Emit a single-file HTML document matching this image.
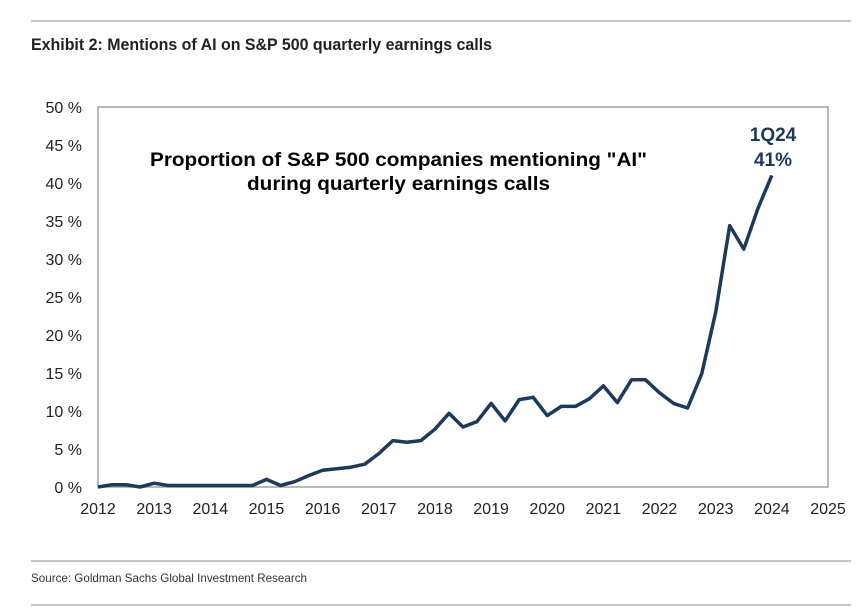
<!DOCTYPE html>
<html><head><meta charset="utf-8">
<style>
body{margin:0;background:#fff;width:868px;height:610px;overflow:hidden;font-family:"Liberation Sans",sans-serif;}
</style></head>
<body>
<svg width="868" height="610" xmlns="http://www.w3.org/2000/svg">
<line x1="31" y1="21" x2="851" y2="21" stroke="#c4c4c4" stroke-width="2"/>
<text x="31" y="50" font-size="17" font-weight="bold" fill="#222" textLength="461" lengthAdjust="spacingAndGlyphs">Exhibit 2: Mentions of AI on S&amp;P 500 quarterly earnings calls</text>
<rect x="98" y="107" width="730" height="380" fill="none" stroke="#a0a0a0" stroke-width="1.5"/>
<g id="yt"></g>
<g id="xt"></g>
<path id="ln" fill="none" stroke="#1b3a5c" stroke-width="3.5" stroke-linejoin="round"/>
<text x="150" y="166" font-size="19" font-weight="bold" fill="#000" textLength="497" lengthAdjust="spacingAndGlyphs">Proportion of S&amp;P 500 companies mentioning "AI"</text>
<text x="247" y="190" font-size="19" font-weight="bold" fill="#000" textLength="303" lengthAdjust="spacingAndGlyphs">during quarterly earnings calls</text>
<text x="773" y="141" font-size="19" font-weight="bold" fill="#1b3a5c" text-anchor="middle">1Q24</text>
<text x="773" y="166" font-size="19" font-weight="bold" fill="#1b3a5c" text-anchor="middle">41%</text>
<line x1="31" y1="561" x2="851" y2="561" stroke="#c4c4c4" stroke-width="2"/>
<text x="31" y="582" font-size="12" fill="#333" textLength="276" lengthAdjust="spacingAndGlyphs">Source: Goldman Sachs Global Investment Research</text>
<line x1="31" y1="605" x2="851" y2="605" stroke="#c4c4c4" stroke-width="2"/>
</svg>
<script>
const yTicks=[0,5,10,15,20,25,30,35,40,45,50];
const xTicks=[2012,2013,2014,2015,2016,2017,2018,2019,2020,2021,2022,2023,2024,2025];
const startYear=2012;
const values=[0,0.3,0.3,0,0.5,0.2,0.2,0.2,0.2,0.2,0.2,0.2,1.0,0.2,0.7,1.5,2.2,2.4,2.6,3.0,4.4,6.1,5.9,6.1,7.6,9.7,7.9,8.6,11.0,8.7,11.5,11.8,9.4,10.6,10.6,11.6,13.3,11.1,14.1,14.1,12.4,11.0,10.4,14.9,23.0,34.4,31.3,36.6,41.0];
const X0=98,X1=828,Y0=487,Y1=107;
const xs=t=>X0+(t-2012)/(2025-2012)*(X1-X0);
const ys=v=>Y0-v/50*(Y0-Y1);
const NS="http://www.w3.org/2000/svg";
const yt=document.getElementById('yt'),xt=document.getElementById('xt');
yTicks.forEach(v=>{const t=document.createElementNS(NS,'text');


t.setAttribute('x',82);t.setAttribute('y',ys(v)+6);t.setAttribute('font-size','16');t.setAttribute('fill','#222');t.setAttribute('text-anchor','end');t.textContent=v+' %';yt.appendChild(t);});
xTicks.forEach(v=>{const t=document.createElementNS(NS,'text');


t.setAttribute('x',xs(v));t.setAttribute('y',514);t.setAttribute('font-size','16');t.setAttribute('fill','#222');t.setAttribute('text-anchor','middle');t.textContent=v;xt.appendChild(t);});
document.getElementById('ln').setAttribute('d',values.map((v,i)=>(i?'L':'M')+xs(startYear+i/4).toFixed(1)+' '+ys(v).toFixed(1)).join(' '));
</script>
</body></html>
